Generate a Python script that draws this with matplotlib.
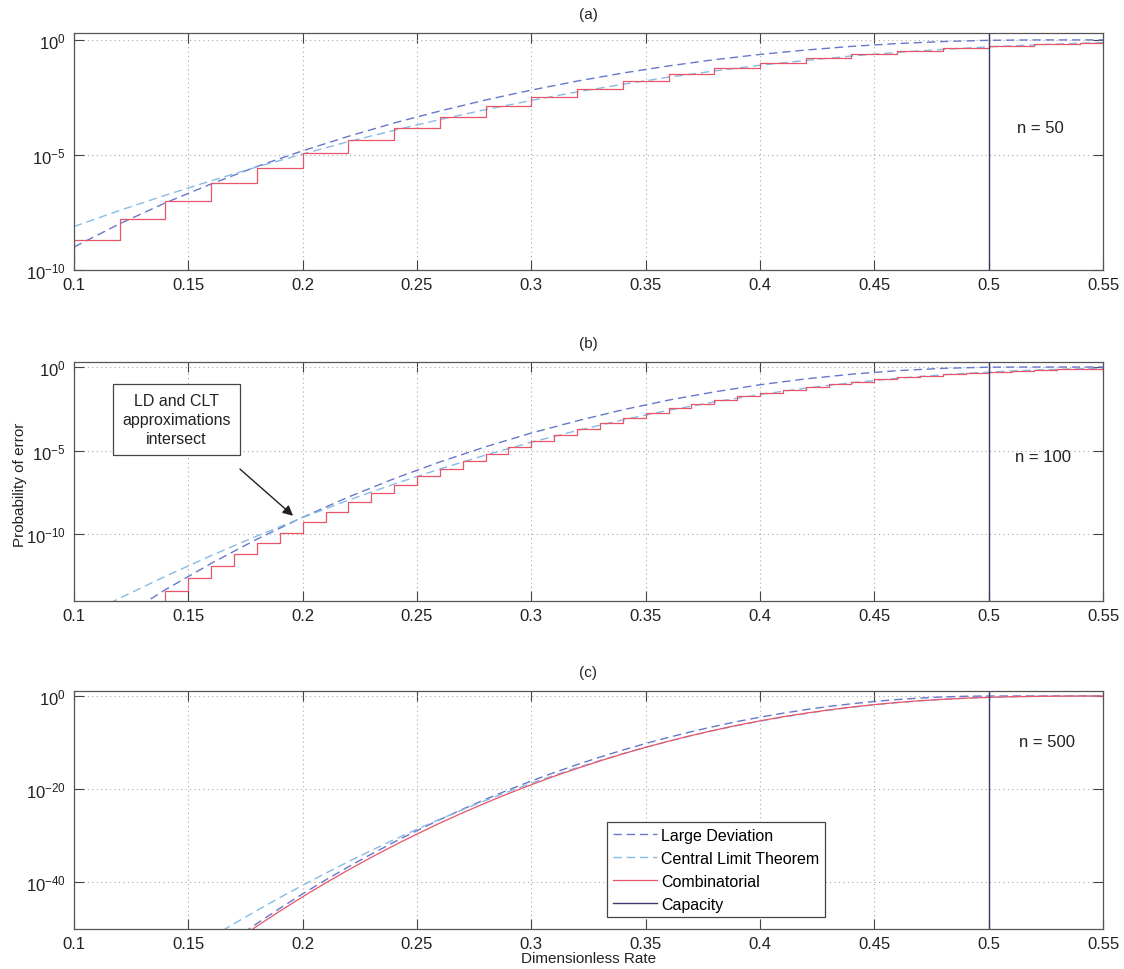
import numpy as np
import matplotlib
matplotlib.use('Agg')
import matplotlib.pyplot as plt
from matplotlib.ticker import NullLocator, FixedLocator, FixedFormatter

plt.rcParams['font.family'] = ['Liberation Sans', 'DejaVu Sans']
plt.rcParams['mathtext.fontset'] = 'custom'
plt.rcParams['mathtext.rm'] = 'Liberation Sans'
plt.rcParams['mathtext.it'] = 'Liberation Sans:italic'
plt.rcParams['mathtext.bf'] = 'Liberation Sans:bold'
plt.rcParams['mathtext.default'] = 'regular'

# ---------------- data (log10 of probability of error) ----------------
capacity = 0.5

# panel (a): n = 50
rate_a = [0.10, 0.12, 0.14, 0.16, 0.18, 0.20, 0.22, 0.24, 0.26, 0.28, 0.30, 0.32,
          0.34, 0.36, 0.38, 0.40, 0.42, 0.44, 0.46, 0.48, 0.50, 0.52, 0.54, 0.55]
ld_a = [-9.00, -7.99, -7.08, -6.26, -5.50, -4.82, -4.19, -3.61, -3.09, -2.61, -2.18, -1.79,
        -1.44, -1.13, -0.86, -0.63, -0.44, -0.28, -0.157, -0.070, -0.017, 0.0, 0.0, 0.0]
clt_a = [-8.11, -7.41, -6.75, -6.12, -5.52, -4.96, -4.42, -3.93, -3.46, -3.03, -2.63, -2.26,
         -1.93, -1.62, -1.35, -1.10, -0.89, -0.70, -0.544, -0.41, -0.301, -0.214, -0.146, -0.119]
comb_rate_a = [0.08, 0.10, 0.12, 0.14, 0.16, 0.18, 0.20, 0.22, 0.24, 0.26, 0.28, 0.30,
               0.32, 0.34, 0.36, 0.38, 0.40, 0.42, 0.44, 0.46, 0.48, 0.50, 0.52, 0.54, 0.55]
comb_a = [-9.65, -8.68, -7.79, -6.98, -6.24, -5.55, -4.92, -4.35, -3.82, -3.33, -2.89, -2.48,
          -2.12, -1.78, -1.49, -1.23, -0.99, -0.79, -0.62, -0.47, -0.35, -0.25, -0.18, -0.12, -0.12]

# panel (b): n = 100
rate_b = rate_a
ld_b = [-16.96, -15.05, -13.32, -11.75, -10.30, -8.99, -7.78, -6.68, -5.68, -4.77, -3.95, -3.22,
        -2.56, -1.98, -1.49, -1.06, -0.71, -0.43, -0.218, -0.078, -0.0087, 0.0, 0.0, 0.0]
clt_b = [-15.21, -13.83, -12.52, -11.28, -10.11, -9.006, -7.97, -7.00, -6.10, -5.27, -4.50, -3.80,
         -3.16, -2.59, -2.09, -1.643, -1.261, -0.939, -0.674, -0.463, -0.301, -0.183, -0.103, -0.075]
comb_rate_b = [0.13, 0.14, 0.15, 0.16, 0.17, 0.18, 0.19, 0.20, 0.21, 0.22, 0.23, 0.24, 0.25,
               0.26, 0.27, 0.28, 0.29, 0.30, 0.31, 0.32, 0.33, 0.34, 0.35, 0.36, 0.37, 0.38,
               0.39, 0.40, 0.41, 0.42, 0.43, 0.44, 0.45, 0.46, 0.47, 0.48, 0.49, 0.50, 0.51,
               0.52, 0.53, 0.54, 0.55]
comb_b = [-14.18, -13.38, -12.62, -11.89, -11.20, -10.54, -9.92, -9.27, -8.67, -8.10, -7.56, -7.04,
          -6.55, -6.08, -5.63, -5.20, -4.79, -4.41, -4.04, -3.69, -3.36, -3.05, -2.75, -2.48,
          -2.22, -1.98, -1.754, -1.547, -1.354, -1.177, -1.015, -0.868, -0.735, -0.616, -0.511,
          -0.418, -0.337, -0.268, -0.209, -0.160, -0.120, -0.088, -0.063]

# panel (c): n = 500
rate_c = [0.16, 0.17, 0.18, 0.19, 0.20, 0.21, 0.22, 0.23, 0.24, 0.25, 0.26, 0.27, 0.28,
          0.29, 0.30, 0.31, 0.32, 0.33, 0.34, 0.35, 0.36, 0.37, 0.38, 0.39, 0.40, 0.41,
          0.42, 0.43, 0.44, 0.45, 0.46, 0.47, 0.48, 0.49, 0.50, 0.51, 0.52, 0.53, 0.54, 0.55]
ld_c = [-55.76, -52.21, -48.82, -45.57, -42.46, -39.49, -36.65, -33.94, -31.35, -28.89,
        -26.53, -24.29, -22.17, -20.15, -18.24, -16.43, -14.73, -13.12, -11.61, -10.19,
        -8.88, -7.66, -6.53, -5.49, -4.55, -3.70, -2.93, -2.25, -1.675, -1.177,
        -0.77, -0.442, -0.209, -0.06, -0.002, 0.0, 0.0, 0.0, 0.0, 0.0]
clt_c = [-51.79, -48.86, -46.02, -43.27, -40.62, -38.04, -35.55, -33.15, -30.83, -28.59,
         -26.45, -24.39, -22.42, -20.53, -18.73, -17.02, -15.38, -13.84, -12.38, -11.01,
         -9.72, -8.52, -7.40, -6.36, -5.41, -4.545, -3.76, -3.06, -2.44, -1.897,
         -1.434, -1.047, -0.732, -0.485, -0.301, -0.172, -0.089, -0.041, -0.016, -0.0055]
comb_c = [-56.26, -52.74, -49.39, -46.17, -43.09, -40.13, -37.32, -34.63, -32.06, -29.62,
          -27.28, -25.06, -22.95, -20.94, -19.04, -17.23, -15.54, -13.94, -12.43, -11.01,
          -9.70, -8.48, -7.34, -6.29, -5.33, -4.46, -3.69, -2.99, -2.38, -1.847,
          -1.391, -1.012, -0.704, -0.464, -0.286, -0.162, -0.083, -0.038, -0.0147, -0.005]

x_ticks = [0.1, 0.15, 0.2, 0.25, 0.3, 0.35, 0.4, 0.45, 0.5, 0.55]
x_ticklabels = ['0.1', '0.15', '0.2', '0.25', '0.3', '0.35', '0.4', '0.45', '0.5', '0.55']
series_labels = ['Large Deviation', 'Central Limit Theorem', 'Combinatorial', 'Capacity']

# ---------------- styles ----------------
LD_C = '#6677cc'
CLT_C = '#86bce4'
COMB_C = '#e95468'
CAP_C = '#3a3a6e'
DASH = (0, (6, 3.5))
TXT = '#222222'

fig = plt.figure(figsize=(11.24, 9.70), dpi=100)
FW, FH = 1124.0, 970.0
LEFT, RIGHT = 74, 1103


def box(top, bottom):
    return [LEFT / FW, 1 - bottom / FH, (RIGHT - LEFT) / FW, (bottom - top) / FH]


panels = [
    dict(pos=box(34, 271), rate=rate_a, ld=ld_a, clt=clt_a, crate=comb_rate_a, comb=comb_a,
         step=True, ylim=(1e-10, 2.0), yt=[1e-10, 1e-5, 1.0],
         ytl=[r'$10^{-10}$', r'$10^{-5}$', r'$10^{0}$'], title='(a)', nlab='n = 50',
         nxy=(0.939, 0.603)),
    dict(pos=box(363, 602), rate=rate_b, ld=ld_b, clt=clt_b, crate=comb_rate_b, comb=comb_b,
         step=True, ylim=(1e-14, 2.0), yt=[1e-10, 1e-5, 1.0],
         ytl=[r'$10^{-10}$', r'$10^{-5}$', r'$10^{0}$'], title='(b)', nlab='n = 100',
         nxy=(0.942, 0.603)),
    dict(pos=box(692, 930), rate=rate_c, ld=ld_c, clt=clt_c, crate=rate_c, comb=comb_c,
         step=False, ylim=(1e-50, 10 ** 1.07), yt=[1e-40, 1e-20, 1.0],
         ytl=[r'$10^{-40}$', r'$10^{-20}$', r'$10^{0}$'], title='(c)', nlab='n = 500',
         nxy=(0.946, 0.786)),
]

axes = []
for p in panels:
    ax = fig.add_axes(p['pos'])
    axes.append(ax)
    ax.set_yscale('log')
    h1, = ax.plot(p['rate'], 10.0 ** np.array(p['ld']), ls=DASH, color=LD_C, lw=1.0,
                  label=series_labels[0])
    h2, = ax.plot(p['rate'], 10.0 ** np.array(p['clt']), ls=DASH, color=CLT_C, lw=1.0,
                  label=series_labels[1])
    if p['step']:
        h3, = ax.step(p['crate'], 10.0 ** np.array(p['comb']), where='post', color=COMB_C,
                      lw=0.9, label=series_labels[2])
    else:
        h3, = ax.plot(p['crate'], 10.0 ** np.array(p['comb']), color=COMB_C, lw=0.9,
                      label=series_labels[2])
    h4 = ax.axvline(capacity, color=CAP_C, lw=1.0, label=series_labels[3])
    ax.set_xlim(0.1, 0.55)
    ax.set_ylim(*p['ylim'])
    ax.xaxis.set_major_locator(FixedLocator(x_ticks))
    ax.xaxis.set_major_formatter(FixedFormatter(x_ticklabels))
    ax.yaxis.set_major_locator(FixedLocator(p['yt']))
    ax.yaxis.set_major_formatter(FixedFormatter(p['ytl']))
    ax.yaxis.set_minor_locator(NullLocator())
    ax.xaxis.set_minor_locator(NullLocator())
    ax.grid(True, which='major', ls=(0, (1, 3)), color='#a8a8a8', lw=0.8)
    ax.tick_params(direction='in', top=True, right=True, length=7, width=0.8,
                   labelsize=12, colors='#444444', labelcolor=TXT)
    ax.tick_params(axis='x', pad=5)
    ax.tick_params(axis='y', pad=6)
    for s in ax.spines.values():
        s.set_color('#555555')
        s.set_linewidth(0.9)
    ax.set_title(p['title'], fontsize=11, pad=11, color=TXT)
    ax.text(p['nxy'][0], p['nxy'][1], p['nlab'], transform=ax.transAxes,
            ha='center', va='center', fontsize=12, color=TXT)
    p['handles'] = [h1, h2, h3, h4]

# annotation in panel (b)
axb = axes[1]
axb.text(0.0996, 0.759, 'LD and CLT\napproximations\nintersect', transform=axb.transAxes,
         ha='center', va='center', fontsize=11.5, linespacing=1.3, color=TXT,
         bbox=dict(boxstyle='square,pad=0.6', fc='white', ec='#444444', lw=0.9))
axb.annotate('', xy=(0.1958, 10 ** -8.9), xycoords='data',
             xytext=(0.1613, 0.552), textcoords='axes fraction',
             arrowprops=dict(arrowstyle='-|>', color='#222222', lw=1.0, mutation_scale=15,
                             shrinkA=0, shrinkB=0))

# legend in panel (c)
axc = axes[2]
leg = axc.legend(handles=panels[2]['handles'], loc='upper left',
                 bbox_to_anchor=(0.518, 0.4496), borderaxespad=0, fontsize=11.5,
                 frameon=True, fancybox=False, edgecolor='#444444', framealpha=1,
                 handlelength=2.8, handletextpad=0.25, borderpad=0.35, labelspacing=0.5)
leg.get_frame().set_linewidth(0.9)

fig.text(20 / FW, 1 - 485 / FH, 'Probability of error', rotation=90, ha='center',
         va='center', fontsize=11, color=TXT)
fig.text((LEFT + RIGHT) / 2 / FW, 1 - 959 / FH, 'Dimensionless Rate', ha='center',
         va='center', fontsize=11, color=TXT)

fig.savefig('out.png', dpi=100)
